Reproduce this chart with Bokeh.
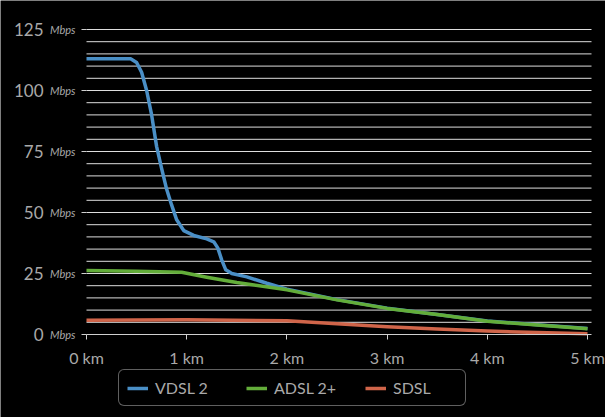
from bokeh.plotting import figure
from bokeh.models import (FixedTicker, Legend, LegendItem, LinearAxis, Range1d)
from bokeh.embed import file_html
from bokeh.resources import INLINE

# ---- data ----
vdsl_km = [0, 0.44, 0.5, 0.55, 0.6, 0.65, 0.7, 0.75, 0.8, 0.85, 0.9, 0.97,
           1.07, 1.2, 1.27, 1.31, 1.35, 1.39, 1.45, 1.6, 1.8, 2.0, 2.5, 3.0,
           3.5, 4.0, 4.5, 5.0]
vdsl_mbps = [113, 113, 111.5, 107.5, 100, 90, 77, 68, 59.5, 53, 47, 42.6,
             40.6, 39.2, 38, 35.5, 30.5, 26.5, 25, 23.6, 21, 18.6, 14.3, 10.8,
             8.2, 5.5, 4.0, 2.5]

adsl_km = [0, 0.5, 0.95, 1.2, 1.5, 2.0, 2.5, 3.0, 3.5, 4.0, 4.5, 5.0]
adsl_mbps = [26.2, 25.9, 25.5, 23.5, 21.3, 18.3, 14.2, 10.7, 8.2, 5.4, 3.9, 2.4]

sdsl_km = [0, 1.0, 2.0, 2.5, 3.0, 3.5, 4.0, 4.5, 5.0]
sdsl_mbps = [5.8, 6.0, 5.6, 4.4, 3.2, 2.3, 1.4, 0.8, 0.3]

series_names = ["VDSL 2", "ADSL 2+", "SDSL"]
series_colors = ["#4a8fc6", "#63ad3a", "#d0654a"]

x_ticks = [0, 1, 2, 3, 4, 5]
x_tick_labels = ["0 km", "1 km", "2 km", "3 km", "4 km", "5 km"]
y_ticks = [0, 25, 50, 75, 100, 125]
y_tick_labels = ["0", "25", "50", "75", "100", "125"]
y_unit = "Mbps"
grid_mbps = list(range(5, 126, 5))
X_END = 5.04  # right end of the plotting area (km)

TEXT = "#a9a9a9"
FONT = "Lato"

# layout: the frame covers the whole canvas; axes are pinned at 0
W, H = 605, 417
LEFT, BOTTOM_GAP, PX_KM, PX_MBPS = 86, 83, 100.2, 305 / 125
p = figure(width=W, height=H, output_backend="svg", toolbar_location=None,
           x_range=Range1d(-LEFT / PX_KM, (W - LEFT) / PX_KM),
           y_range=Range1d(-BOTTOM_GAP / PX_MBPS, (H - BOTTOM_GAP) / PX_MBPS),
           min_border_left=0, min_border_right=0, min_border_top=0,
           min_border_bottom=0)
p.background_fill_color = "black"
p.border_fill_color = "black"
p.outline_line_color = None
p.xgrid.visible = False
p.ygrid.visible = False

# horizontal grid lines limited to the plotting area
p.segment(x0=[0] * len(grid_mbps), y0=grid_mbps,
          x1=[X_END] * len(grid_mbps), y1=grid_mbps,
          line_color="#dedede", line_width=1)

# x axis, pinned at 0 Mbps
xa = p.xaxis[0]
xa.fixed_location = 0
xa.bounds = (0, X_END)
xa.ticker = FixedTicker(ticks=x_ticks)
xa.major_label_overrides = {t: l for t, l in zip(x_ticks, x_tick_labels)}
xa.axis_line_color = "#cfcfcf"
xa.major_tick_line_color = "#cfcfcf"
xa.major_tick_out = 5
xa.major_tick_in = 0
xa.minor_tick_line_color = None
xa.major_label_text_color = TEXT
xa.major_label_text_font = FONT
xa.major_label_text_font_size = "16px"
xa.major_label_standoff = 8

# inner y axis: ticks + small italic unit, pinned at 0 km
ya = p.yaxis[0]
ya.fixed_location = 0
ya.ticker = FixedTicker(ticks=y_ticks)
ya.major_label_overrides = {t: y_unit for t in y_ticks}
ya.axis_line_color = None
ya.major_tick_line_color = "#cfcfcf"
ya.major_tick_out = 5
ya.major_tick_in = 0
ya.minor_tick_line_color = None
ya.major_label_text_color = TEXT
ya.major_label_text_font = FONT
ya.major_label_text_font_size = "11px"
ya.major_label_text_font_style = "italic"
ya.major_label_standoff = 6

# outer y axis: the numbers
yb = LinearAxis(ticker=FixedTicker(ticks=y_ticks), fixed_location=0,
                major_label_overrides={t: l for t, l in zip(y_ticks, y_tick_labels)})
yb.axis_line_color = None
yb.major_tick_line_color = None
yb.major_tick_out = 0
yb.major_tick_in = 0
yb.minor_tick_line_color = None
yb.major_label_text_color = TEXT
yb.major_label_text_font = FONT
yb.major_label_text_font_size = "17px"
yb.major_label_standoff = 43
p.add_layout(yb, "left")

# lines
r1 = p.line(vdsl_km, vdsl_mbps, line_color=series_colors[0], line_width=3.5,
            line_join="round")
r2 = p.line(adsl_km, adsl_mbps, line_color=series_colors[1], line_width=3.5,
            line_join="round")
r3 = p.line(sdsl_km, sdsl_mbps, line_color=series_colors[2], line_width=3.5,
            line_join="round")

legend = Legend(items=[LegendItem(label=series_names[0], renderers=[r1]),
                       LegendItem(label=series_names[1], renderers=[r2]),
                       LegendItem(label=series_names[2], renderers=[r3])],
                orientation="horizontal", location=(118, 11))
legend.background_fill_color = "black"
legend.background_fill_alpha = 1
legend.border_line_color = "#bdbdbd"
legend.border_line_width = 1.5
legend.label_text_color = TEXT
legend.label_text_font = FONT
legend.label_text_font_size = "16px"
legend.glyph_width = 21
legend.glyph_height = 16
legend.label_standoff = 7
legend.spacing = 27
legend.padding = 8
legend.margin = 0
if "label_width" in Legend.properties():
    legend.label_width = 64
if "border_radius" in Legend.properties():
    legend.border_radius = 6
p.add_layout(legend, "center")

open("out.html", "w").write(file_html(p, INLINE))
